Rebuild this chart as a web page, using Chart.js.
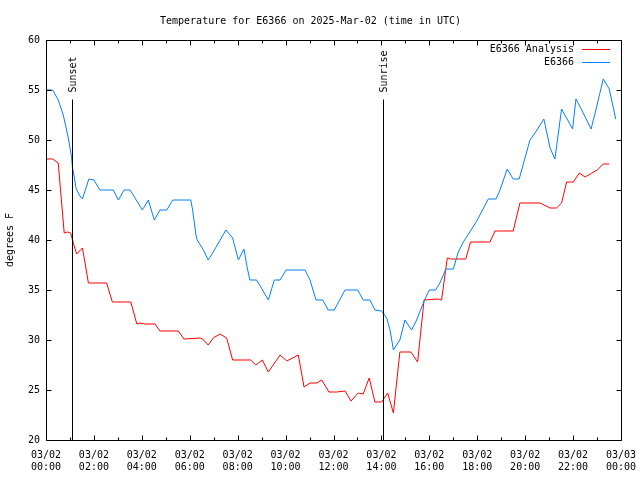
<!DOCTYPE html>
<html>
<head>
<meta charset="utf-8">
<title>Temperature for E6366</title>
<script src="https://cdn.jsdelivr.net/npm/chart.js@4/dist/chart.umd.min.js"></script>
<style>
body { margin: 0; background: #fff; }
#wrap { width: 640px; height: 480px; }
</style>
</head>
<body>
<div id="wrap"><canvas id="tempChart" width="640" height="480"></canvas></div>
<script>
// hours since 03/02 00:00 UTC, degrees F
var anaHours = [0, 0.28, 0.51, 0.76, 0.89, 1.03, 1.14, 1.28, 1.52, 1.63, 1.77, 2.53, 2.77, 3.54, 3.79, 3.92,
    4.13, 4.55, 4.76, 5.52, 5.76, 6.43, 6.54, 6.77, 6.98, 7.26, 7.54, 7.79, 8.54, 8.76, 9.03, 9.28, 9.77,
    10.05, 10.53, 10.77, 11.02, 11.30, 11.51, 11.81, 12.13, 12.48, 12.73, 13.03, 13.24, 13.49, 13.73, 14.01,
    14.26, 14.50, 14.77, 15.23, 15.51, 15.78, 16.37, 16.51, 16.75, 16.89, 17.52, 17.72, 18.53, 18.74, 19.50,
    19.78, 20.62, 21.04, 21.31, 21.52, 21.73, 22.01, 22.26, 22.50, 22.78, 23.01, 23.26, 23.51];
var anaTemps = [48.1, 48.1, 47.7, 40.7, 40.8, 40.7, 39.7, 38.6, 39.2, 37.7, 35.7, 35.7, 33.8, 33.8, 31.6, 31.7,
    31.6, 31.6, 30.9, 30.9, 30.1, 30.2, 30.1, 29.5, 30.2, 30.6, 30.2, 28.0, 28.0, 27.5, 28.0, 26.8, 28.5,
    27.9, 28.5, 25.3, 25.7, 25.7, 26.0, 24.8, 24.8, 24.9, 23.9, 24.7, 24.6, 26.2, 23.8, 23.8,
    24.7, 22.7, 28.8, 28.8, 27.8, 34.0, 34.1, 34.0, 38.2, 38.1, 38.1, 39.8, 39.8, 40.9, 40.9,
    43.7, 43.7, 43.2, 43.2, 43.7, 45.8, 45.8, 46.7, 46.3, 46.7, 47.0, 47.6, 47.6];

var obsHours = [0, 0.28, 0.51, 0.72, 0.86, 0.97, 1.07, 1.10, 1.18, 1.25, 1.39, 1.52, 1.79, 2.00, 2.25, 2.81,
    3.02, 3.26, 3.51, 4.02, 4.27, 4.52, 4.76, 5.04, 5.29, 6.04, 6.12, 6.26, 6.31, 6.57, 6.77, 6.98, 7.51,
    7.79, 8.03, 8.26, 8.40, 8.51, 8.79, 9.04, 9.28, 9.53, 9.77, 10.02, 10.81, 11.02, 11.27, 11.55, 11.78,
    12.03, 12.48, 13.01, 13.24, 13.52, 13.73, 14.01, 14.22, 14.36, 14.50, 14.77, 14.98, 15.26, 15.47, 15.68,
    15.82, 16.00, 16.26, 16.44, 16.69, 17.00, 17.21, 17.42, 17.77, 18.00, 18.46, 18.78, 18.95, 19.25, 19.50,
    19.75, 20.20, 20.41, 20.78, 21.04, 21.24, 21.52, 21.98, 22.12, 22.36, 22.75, 22.95, 23.26, 23.51, 23.78];
var obsTemps = [55, 55, 54, 52.5, 51, 49.7, 48.2, 47.3, 46.3, 45.2, 44.5, 44.1, 46.1, 46, 45, 45,
    44, 45, 45, 43, 44, 42, 43, 43, 44, 44, 43, 40.5, 40, 39, 38, 38.8, 41,
    40.2, 38, 39.1, 37.2, 36, 36, 35, 34, 36, 36, 37, 37, 36, 34, 34, 33,
    33, 35, 35, 34, 34, 33, 32.9, 32.2, 31, 29, 30, 32, 31, 32, 33.3,
    34.1, 35, 35, 35.7, 37.1, 37.1, 38.8, 39.8, 41.1, 42, 44.1, 44.1, 45, 47.1, 46.1,
    46.1, 50, 50.7, 52.1, 49.2, 48.1, 53.1, 51.1, 54.1, 53, 51.1, 53, 56.1, 55.1, 52.1];

var eventNames = ["Sunset", "Sunrise"];
var eventHours = [1.1, 14.08];

var seriesNames = ["E6366 Analysis", "E6366"];
var seriesColors = ["#ff0000", "#0080ff"];

var monoFont = "'DejaVu Sans Mono', 'Liberation Mono', monospace";

function toPoints(hours, temps) {
    var pts = [];
    for (var i = 0; i < hours.length; i++) {
        pts.push({ x: hours[i], y: temps[i] });
    }
    return pts;
}

function hourLabel(v) {
    var day = v >= 24 ? "03/03" : "03/02";
    var h = v % 24;
    return [day, (h < 10 ? "0" : "") + h + ":00"];
}

// gnuplot look: inward ticks on all sides, frame, sun markers, key
var gnuplotBits = {
    id: "gnuplotBits",
    afterDatasetsDraw: function(chart) {
        var ctx = chart.ctx;
        var a = chart.chartArea;
        var xs = chart.scales.x;
        var ys = chart.scales.y;
        var l = Math.round(a.left) + 0.5, r = Math.round(a.right) + 0.5;
        var t = Math.round(a.top) + 0.5, b = Math.round(a.bottom) + 0.5;

        ctx.save();
        ctx.strokeStyle = "#000";
        ctx.lineWidth = 1;
        ctx.beginPath();
        ctx.rect(l, t, r - l, b - t);
        xs.ticks.forEach(function(tk) {
            var px = Math.round(xs.getPixelForValue(tk.value)) + 0.5;
            var len = tk.value % 2 === 0 ? 5 : 3;
            ctx.moveTo(px, b); ctx.lineTo(px, b - len);
            ctx.moveTo(px, t); ctx.lineTo(px, t + len);
        });
        ys.ticks.forEach(function(tk) {
            var py = Math.round(ys.getPixelForValue(tk.value)) + 0.5;
            ctx.moveTo(l, py); ctx.lineTo(l + 5, py);
            ctx.moveTo(r, py); ctx.lineTo(r - 5, py);
        });
        ctx.stroke();

        // sunset / sunrise
        ctx.font = "10px " + monoFont;
        ctx.fillStyle = "#000";
        for (var i = 0; i < eventNames.length; i++) {
            var ex = Math.round(xs.getPixelForValue(eventHours[i])) + 0.5;
            ctx.beginPath();
            ctx.moveTo(ex, t + 59);
            ctx.lineTo(ex, b);
            ctx.stroke();
            ctx.save();
            ctx.translate(ex + 1, t + 52);
            ctx.rotate(-Math.PI / 2);
            ctx.textAlign = "left";
            ctx.textBaseline = "middle";
            ctx.fillText(eventNames[i], 0, 0);
            ctx.restore();
        }

        // key
        ctx.textAlign = "right";
        ctx.textBaseline = "middle";
        for (var k = 0; k < seriesNames.length; k++) {
            var ky = Math.round(a.top + 9 + k * 13) + 0.5;
            ctx.fillStyle = "#000";
            ctx.fillText(seriesNames[k], a.right - 47, ky);
            ctx.strokeStyle = seriesColors[k];
            ctx.beginPath();
            ctx.moveTo(a.right - 39, ky);
            ctx.lineTo(a.right - 11, ky);
            ctx.stroke();
        }
        ctx.restore();
    }
};

var elem = document.getElementById("tempChart").getContext("2d");

const tempChart = new Chart(elem, {
    type: "scatter",
    data: {
        datasets: [{
            label: seriesNames[0],
            data: toPoints(anaHours, anaTemps),
            borderColor: seriesColors[0],
            borderWidth: 1,
            showLine: true,
            pointRadius: 0,
            order: 1
        }, {
            label: seriesNames[1],
            data: toPoints(obsHours, obsTemps),
            borderColor: seriesColors[1],
            borderWidth: 1,
            showLine: true,
            pointRadius: 0,
            order: 0
        }]
    },
    options: {
        responsive: false,
        animation: false,
        devicePixelRatio: 1,
        layout: { padding: { top: 0, right: 19, bottom: 0, left: 0 } },
        plugins: {
            legend: { display: false },
            tooltip: { enabled: false },
            title: {
                display: true,
                text: "Temperature for E6366 on 2025-Mar-02 (time in UTC)",
                color: "#000",
                font: { family: monoFont, size: 10, weight: "normal", lineHeight: 1.2 },
                padding: { top: 15, bottom: 13 }
            }
        },
        scales: {
            x: {
                type: "linear",
                min: 0,
                max: 24,
                grid: { display: false, drawTicks: false },
                border: { display: false },
                afterFit: function(scale) {
                    scale.height = 40;
                    scale.paddingLeft = 0;
                    scale.paddingRight = 0;
                },
                ticks: {
                    stepSize: 1,
                    autoSkip: false,
                    maxRotation: 0,
                    padding: 10,
                    color: "#000",
                    font: { family: monoFont, size: 10, lineHeight: 1.15 },
                    callback: function(v) { return v % 2 === 0 ? hourLabel(v) : ""; }
                }
            },
            y: {
                min: 20,
                max: 60,
                grid: { display: false, drawTicks: false },
                border: { display: false },
                afterFit: function(scale) { scale.width = 46; },
                title: {
                    display: true,
                    text: "degrees F",
                    color: "#000",
                    font: { family: monoFont, size: 10, lineHeight: 1.2 },
                    padding: { top: 4, bottom: 4 }
                },
                ticks: {
                    stepSize: 5,
                    padding: 6,
                    color: "#000",
                    font: { family: monoFont, size: 10 }
                }
            }
        }
    },
    plugins: [gnuplotBits]
});
</script>
</body>
</html>
